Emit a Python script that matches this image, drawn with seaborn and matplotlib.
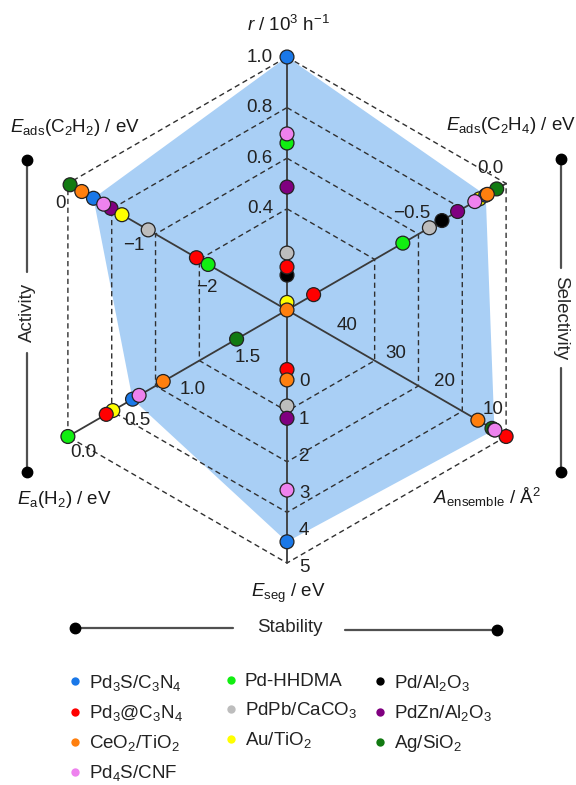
import numpy as np
import pandas as pd
import matplotlib
matplotlib.use("Agg")
import matplotlib.pyplot as plt
import seaborn as sns
from matplotlib.lines import Line2D

# ---------------- data ----------------
catalysts = ["Pd3S/C3N4", "Pd3@C3N4", "CeO2/TiO2", "Pd4S/CNF", "Pd-HHDMA",
             "PdPb/CaCO3", "Au/TiO2", "Pd/Al2O3", "PdZn/Al2O3", "Ag/SiO2"]
legend_labels = ["Pd$_3$S/C$_3$N$_4$", "Pd$_3$@C$_3$N$_4$", "CeO$_2$/TiO$_2$",
                 "Pd$_4$S/CNF", "Pd-HHDMA", "PdPb/CaCO$_3$", "Au/TiO$_2$",
                 "Pd/Al$_2$O$_3$", "PdZn/Al$_2$O$_3$", "Ag/SiO$_2$"]
colors = ["#1a78e8", "#ff0000", "#ff7f0e", "#ee82ee", "#11ee11",
          "#bdbdbd", "#ffff00", "#000000", "#800080", "#127a12"]

nan = np.nan
rate   = [1.0, 0.17, 0.0, 0.696, 0.66, 0.225, 0.03, 0.138, 0.486, nan]
e_c2h4 = [-0.13, -1.23, -0.12, -0.20, -0.66, -0.49, -0.17, -0.41, -0.31, -0.06]
a_ens  = [7.4, 5.0, 10.8, 7.3, nan, nan, nan, nan, nan, 7.9]
e_seg  = [4.43, -0.2, 0.08, 3.04, nan, 0.78, nan, nan, 1.11, nan]
e_a    = [0.59, 0.35, 0.87, 0.65, 0.0, nan, 0.41, nan, nan, 1.54]
e_c2h2 = [-0.35, -1.76, -0.19, -0.49, -1.92, -1.1, -0.74, nan, -0.59, -0.03]

axis_keys = ["rate", "e_c2h4", "a_ens", "e_seg", "e_a", "e_c2h2"]
axis_titles = [r"$r$ / 10$^3$ h$^{-1}$",
               r"$E_{\mathrm{ads}}$(C$_2$H$_4$) / eV",
               r"$A_{\mathrm{ensemble}}$ / Å$^2$",
               r"$E_{\mathrm{seg}}$ / eV",
               r"$E_{\mathrm{a}}$(H$_2$) / eV",
               r"$E_{\mathrm{ads}}$(C$_2$H$_2$) / eV"]
axis_angles = [90, 30, -30, -90, 210, 150]
axis_center = [0.0, -1.4, 50.0, -1.8, 2.0, -3.0]
axis_outer  = [1.0, 0.0, 5.0, 5.0, 0.0, 0.0]
tick_values = [[0.4, 0.6, 0.8, 1.0], [-0.5, 0.0], [40, 30, 20, 10],
               [0, 1, 2, 3, 4, 5], [1.5, 1.0, 0.5, 0.0], [-2, -1, 0]]
tick_labels = [["0.4", "0.6", "0.8", "1.0"], ["\u22120.5", "0.0"],
               ["40", "30", "20", "10"], ["0", "1", "2", "3", "4", "5"],
               ["1.5", "1.0", "0.5", "0.0"], ["\u22122", "\u22121", "0"]]
grid_levels = [0.4, 0.6, 0.8, 1.0]
draw_order = ["Ag/SiO2", "Pd/Al2O3", "PdPb/CaCO3", "PdZn/Al2O3", "Au/TiO2",
              "Pd3@C3N4", "Pd3S/C3N4", "CeO2/TiO2", "Pd-HHDMA", "Pd4S/CNF"]
highlight = "Pd3S/C3N4"

# ---------------- style ----------------
sns.set_style("white")
plt.rcParams["font.family"] = ["Liberation Sans", "DejaVu Sans"]
plt.rcParams["mathtext.fontset"] = "custom"
plt.rcParams["mathtext.rm"] = "Liberation Sans"
plt.rcParams["mathtext.it"] = "Liberation Sans:italic"
plt.rcParams["mathtext.bf"] = "Liberation Sans:bold"
FS = 13.5

# layout (pixels): center of radar & radius
CX, CY, RPX = 287.0, 310.0, 253.0
W, H = 576, 785

fig = plt.figure(figsize=(W / 100, H / 100), dpi=100)
ax = fig.add_axes([0, 0, 1, 1])
ax.set_xlim(-CX / RPX, (W - CX) / RPX)
ax.set_ylim(-(H - CY) / RPX, CY / RPX)
ax.axis("off")


def P(xp, yp):
    return (xp - CX) / RPX, (CY - yp) / RPX


def frac(i, v):
    return (v - axis_center[i]) / (axis_outer[i] - axis_center[i])


def to_xy(i, v):
    f = frac(i, v)
    a = np.deg2rad(axis_angles[i])
    return f * np.cos(a), f * np.sin(a)


series = dict(rate=rate, e_c2h4=e_c2h4, a_ens=a_ens, e_seg=e_seg, e_a=e_a, e_c2h2=e_c2h2)
rows = []
for i, key in enumerate(axis_keys):
    for c, v in zip(catalysts, series[key]):
        if not np.isnan(v):
            x, y = to_xy(i, v)
            rows.append(dict(catalyst=c, axis=key, value=v, x=x, y=y))
df = pd.DataFrame(rows)
df["order"] = df["catalyst"].map({c: k for k, c in enumerate(draw_order)})
df = df.sort_values(["order", "axis"]).reset_index(drop=True)

# filled polygon of highlighted catalyst
hi = df[df.catalyst == highlight].set_index("axis").loc[axis_keys]
ax.fill(hi.x.values, hi.y.values, color="#a9cff5", lw=0, zorder=1)

# hexagonal dashed grid
angs = np.deg2rad(np.array(axis_angles + [axis_angles[0]]))
for lv in grid_levels:
    ax.plot(lv * np.cos(angs), lv * np.sin(angs), ls=(0, (3.8, 2.6)),
            color="#303030", lw=1.0, zorder=2)

# axis spokes
for i in range(6):
    x1, y1 = to_xy(i, axis_outer[i])
    ax.plot([0, x1], [0, y1], color="#3a3a3a", lw=1.3, zorder=3)

# tick labels (offsets in pixels)
tick_off = [(-14, 0, "right"), (-16, -15, "center"), (11, -13, "center"),
            (12, 5, "left"), (15, 16, "center"), (-7, 20, "center")]
for i in range(6):
    dxp, dyp, ha = tick_off[i]
    for v, lab in zip(tick_values[i], tick_labels[i]):
        x, y = to_xy(i, v)
        ax.text(x + dxp / RPX, y - dyp / RPX, lab, fontsize=FS, color="#222222",
                ha=ha, va="center", zorder=4)

# points
palette = dict(zip(catalysts, colors))
sns.scatterplot(data=df, x="x", y="y", hue="catalyst", palette=palette,
                s=100, edgecolor="#222222", linewidth=0.9, legend=False,
                ax=ax, zorder=5)

# axis titles
title_pos = [(288, 25), (511, 125), (487, 497), (288, 593), (64, 500), (75, 128)]
for t, (xp, yp) in zip(axis_titles, title_pos):
    ax.text(*P(xp, yp), t, fontsize=FS, ha="center", va="center", color="#1a1a1a")

# category bars
bar_col = "#505050"
def vbar(xp, y0, y1, ya, yb):
    ax.plot(*zip(P(xp, y0), P(xp, ya)), color=bar_col, lw=1.6)
    ax.plot(*zip(P(xp, yb), P(xp, y1)), color=bar_col, lw=1.6)
    for yy in (y0, y1):
        ax.plot(*P(xp, yy), "o", color="black", ms=7.5)

vbar(27, 160, 472, 272, 353)
ax.text(*P(27, 312), "Activity", rotation=90, fontsize=FS, ha="center", va="center")
vbar(561, 159, 472, 268, 368)
ax.text(*P(561, 318), "Selectivity", rotation=270, fontsize=FS, ha="center", va="center")
ax.plot(*zip(P(75, 628), P(233, 628)), color=bar_col, lw=1.6)
ax.plot(*zip(P(345, 630), P(497, 630)), color=bar_col, lw=1.6)
ax.plot(*P(75, 628), "o", color="black", ms=7.5)
ax.plot(*P(497, 630), "o", color="black", ms=7.5)
ax.text(*P(290, 628), "Stability", fontsize=FS, ha="center", va="center")

# legend: three separate columns
handles = [Line2D([], [], ls="none", marker="o", ms=6, color=c, mec="none") for c in colors]
groups = [(0, 4, 69), (4, 7, 225), (7, 10, 374)]
for a, b, xl in groups:
    leg = matplotlib.legend.Legend(ax, handles[a:b], legend_labels[a:b], loc="upper left",
                                   bbox_to_anchor=(xl / W, 1 - 673 / H),
                                   bbox_transform=fig.transFigure,
                                   frameon=False, fontsize=FS, handlelength=0.6,
                                   handletextpad=0.45, labelspacing=0.54,
                                   borderpad=0, borderaxespad=0)
    for txt in leg.get_texts():
        txt.set_color("#222222")
    ax.add_artist(leg)

fig.savefig("out.png", dpi=100)
